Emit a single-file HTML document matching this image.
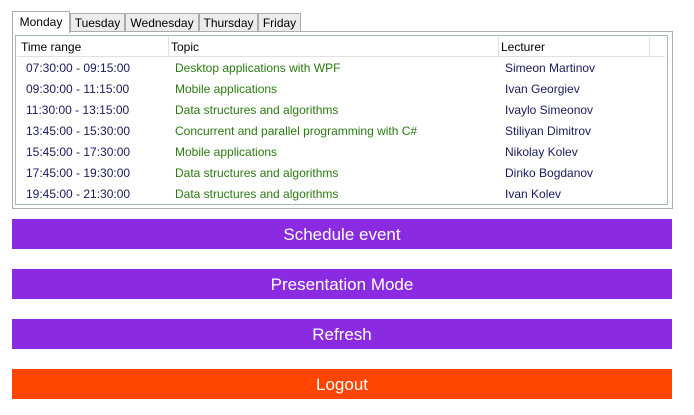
<!DOCTYPE html>
<html><head><style>
body{margin:0;width:694px;height:415px;background:#fff;position:relative;font-family:"Segoe UI","Liberation Sans",sans-serif;overflow:hidden}
.a{position:absolute}
.tab{position:absolute;top:13px;height:19px;border:1px solid #acacac;background:#ececec;font-size:12px;line-height:18px;text-align:center;box-sizing:border-box;color:#000}
.btn{position:absolute;left:12px;width:660px;height:30px;color:#fff;font-size:17px;text-align:center;line-height:32px}
.r{position:absolute;font-size:12px;line-height:14px}
</style></head><body>
<div class="a" style="left:12px;top:31px;width:659px;height:176px;border:1px solid #acacac;"></div>
<div class="tab" style="left:12px;top:11px;width:58px;height:22px;background:#fff;border-bottom:none;line-height:21px">Monday</div>
<div class="tab" style="left:70px;width:55px">Tuesday</div>
<div class="tab" style="left:125px;width:74px">Wednesday</div>
<div class="tab" style="left:199px;width:59px">Thursday</div>
<div class="tab" style="left:258px;width:43px">Friday</div>
<div class="a" style="left:15px;top:35px;width:651px;height:168px;border:1px solid #a8b8c4;"></div>
<div class="a" style="left:17px;top:37px;width:648px;height:19px;border-bottom:1px solid #e0e0e0"></div>
<div class="a" style="left:168px;top:37px;width:1px;height:19px;background:#e0e0e0"></div>
<div class="a" style="left:498px;top:37px;width:1px;height:19px;background:#e0e0e0"></div>
<div class="a" style="left:649px;top:37px;width:1px;height:19px;background:#e0e0e0"></div>
<div class="r" style="left:21px;top:40px">Time range</div>
<div class="r" style="left:171px;top:40px">Topic</div>
<div class="r" style="left:501px;top:40px">Lecturer</div>
<div class="r" style="left:26px;top:61px;color:#1a1a5a">07:30:00 - 09:15:00</div><div class="r" style="left:175px;top:61px;color:#2a7a10">Desktop applications with WPF</div><div class="r" style="left:505px;top:61px;color:#1a1a5a">Simeon Martinov</div>
<div class="r" style="left:26px;top:82px;color:#1a1a5a">09:30:00 - 11:15:00</div><div class="r" style="left:175px;top:82px;color:#2a7a10">Mobile applications</div><div class="r" style="left:505px;top:82px;color:#1a1a5a">Ivan Georgiev</div>
<div class="r" style="left:26px;top:103px;color:#1a1a5a">11:30:00 - 13:15:00</div><div class="r" style="left:175px;top:103px;color:#2a7a10">Data structures and algorithms</div><div class="r" style="left:505px;top:103px;color:#1a1a5a">Ivaylo Simeonov</div>
<div class="r" style="left:26px;top:124px;color:#1a1a5a">13:45:00 - 15:30:00</div><div class="r" style="left:175px;top:124px;color:#2a7a10">Concurrent and parallel programming with C#</div><div class="r" style="left:505px;top:124px;color:#1a1a5a">Stiliyan Dimitrov</div>
<div class="r" style="left:26px;top:145px;color:#1a1a5a">15:45:00 - 17:30:00</div><div class="r" style="left:175px;top:145px;color:#2a7a10">Mobile applications</div><div class="r" style="left:505px;top:145px;color:#1a1a5a">Nikolay Kolev</div>
<div class="r" style="left:26px;top:166px;color:#1a1a5a">17:45:00 - 19:30:00</div><div class="r" style="left:175px;top:166px;color:#2a7a10">Data structures and algorithms</div><div class="r" style="left:505px;top:166px;color:#1a1a5a">Dinko Bogdanov</div>
<div class="r" style="left:26px;top:187px;color:#1a1a5a">19:45:00 - 21:30:00</div><div class="r" style="left:175px;top:187px;color:#2a7a10">Data structures and algorithms</div><div class="r" style="left:505px;top:187px;color:#1a1a5a">Ivan Kolev</div>
<div class="btn" style="top:219px;background:#8a2be2">Schedule event</div>
<div class="btn" style="top:269px;background:#8a2be2">Presentation Mode</div>
<div class="btn" style="top:319px;background:#8a2be2">Refresh</div>
<div class="btn" style="top:369px;background:#ff4500">Logout</div>
</body></html>
